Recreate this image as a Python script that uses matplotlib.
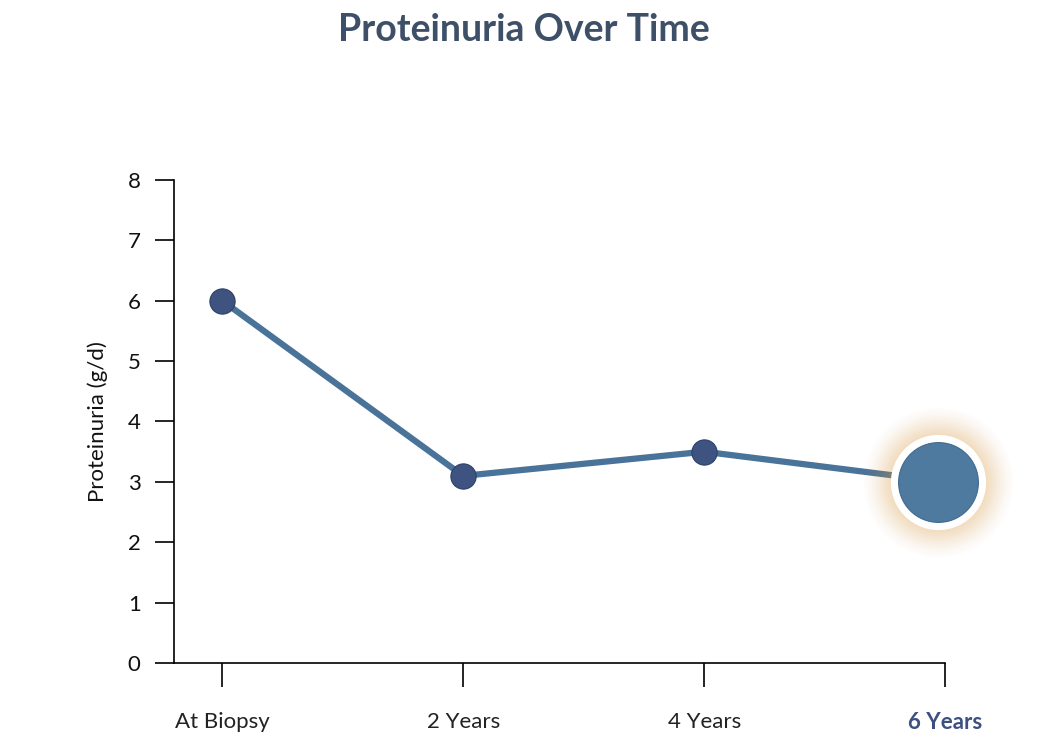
import matplotlib
matplotlib.use("Agg")
import matplotlib.pyplot as plt
import numpy as np

categories = ["At Biopsy", "2 Years", "4 Years", "6 Years"]
values = [6.0, 3.1, 3.5, 3.0]
yticks = [0, 1, 2, 3, 4, 5, 6, 7, 8]

plt.rcParams['font.family'] = ['Lato', 'DejaVu Sans']
fig = plt.figure(figsize=(10.48, 7.46), dpi=100)
ax = fig.add_axes([0.166, 0.111, 0.736, 0.648])
x = np.arange(len(categories))
ax.plot(x, values, color="#4a7399", lw=4.5, zorder=2, solid_capstyle='round')
ax.scatter(x[:-1], values[:-1], s=330, color="#3f5380", edgecolor="#2e3f66", lw=0.8, zorder=3, clip_on=False)
# glow
for r, a in zip(np.linspace(150, 70, 20), np.linspace(0.012, 0.06, 20)):
    ax.scatter([x[-1] - 0.03], [values[-1]], s=(r * 0.72) ** 2, color="#f0a040", alpha=a, lw=0, zorder=3, clip_on=False)
ax.scatter([x[-1] - 0.03], [values[-1]], s=4700, color="white", lw=0, zorder=4, clip_on=False)
ax.scatter([x[-1] - 0.03], [values[-1]], s=3300, color="#4d7a9e", edgecolor="#3f6a8e", lw=0.8, zorder=5, clip_on=False)

ax.set_xlim(-0.2, 3.0)
ax.set_ylim(0, 8)
ax.set_yticks(yticks)
ax.set_xticks(x)
ax.set_xticklabels(categories, fontsize=16, color="#222222")
ax.get_xticklabels()[-1].set_color("#3d5080")
ax.get_xticklabels()[-1].set_fontweight("bold")
ax.tick_params(axis='y', labelsize=16, length=14, width=1.2, pad=10, labelcolor="#111111")
ax.tick_params(axis='x', length=17, width=1.2, pad=18)
for s in ["top", "right"]:
    ax.spines[s].set_visible(False)
for s in ["left", "bottom"]:
    ax.spines[s].set_linewidth(1.2)
ax.set_ylabel("Proteinuria (g/d)", fontsize=16, labelpad=14, color="#111111")
fig.text(0.5, 0.96, "Proteinuria Over Time", ha="center", va="center",
         fontsize=27, fontweight="bold", color="#3d5068")
fig.savefig("out.png", dpi=100)
